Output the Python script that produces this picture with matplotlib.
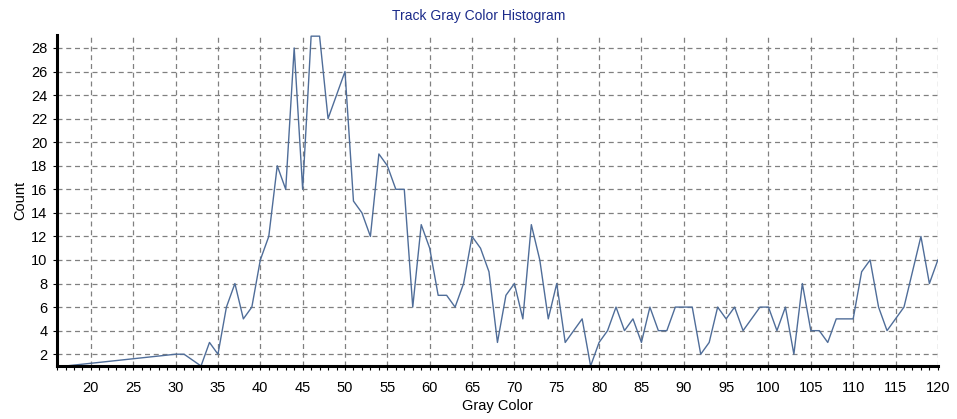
import numpy as np
import matplotlib
matplotlib.use('Agg')
import matplotlib.pyplot as plt
from matplotlib.ticker import MultipleLocator

# gray level -> pixel count (gaps where no bins were recorded)
gray = [17, 30, 31, 33, 34, 35, 36, 37, 38, 39, 40, 41, 42, 43, 44, 45, 46, 47, 48, 49,
        50, 51, 52, 53, 54, 55, 56, 57, 58, 59, 60, 61, 62, 63, 64, 65, 66, 67, 68, 69,
        70, 71, 72, 73, 74, 75, 76, 77, 78, 79, 80, 81, 82, 83, 84, 85, 86, 87, 88, 89,
        90, 91, 92, 93, 94, 95, 96, 97, 98, 99, 100, 101, 102, 103, 104, 105, 106, 107,
        108, 109, 110, 111, 112, 113, 114, 115, 116, 117, 118, 119, 120]
count = [1, 2, 2, 1, 3, 2, 6, 8, 5, 6, 10, 12, 18, 16, 28, 16, 29, 29, 22, 24,
         26, 15, 14, 12, 19, 18, 16, 16, 6, 13, 11, 7, 7, 6, 8, 12, 11, 9, 3, 7,
         8, 5, 13, 10, 5, 8, 3, 4, 5, 1, 3, 4, 6, 4, 5, 3, 6, 4, 4, 6,
         6, 6, 2, 3, 6, 5, 6, 4, 5, 6, 6, 4, 6, 2, 8, 4, 4, 3,
         5, 5, 5, 9, 10, 6, 4, 5, 6, 9, 12, 8, 10]

plt.rcParams['font.family'] = ['Liberation Sans', 'DejaVu Sans']

fig = plt.figure(figsize=(9.57, 4.19), dpi=100)
ax = fig.add_axes([0.0596, 0.1265, 0.9204, 0.79])

ax.plot(gray, count, color='#4f6d99', linewidth=1.0)

ax.set_xlim(16, 120)
ax.set_ylim(1, 29.1)
ax.xaxis.set_major_locator(MultipleLocator(5))
ax.xaxis.set_minor_locator(MultipleLocator(1))
ax.yaxis.set_major_locator(MultipleLocator(2))

ax.grid(True, which='major', color='#808080', linestyle=(0, (4, 3)), linewidth=0.9)

for s in ['top', 'right']:
    ax.spines[s].set_visible(False)
for s in ['left', 'bottom']:
    ax.spines[s].set_linewidth(2.2)
    ax.spines[s].set_color('black')

ax.tick_params(axis='both', which='major', labelsize=10.5, length=3, width=0.8)
ax.tick_params(axis='x', which='major', pad=8)
ax.tick_params(axis='y', which='major', pad=4)
ax.tick_params(axis='x', which='minor', length=3, width=0.8)

ax.set_xlabel('Gray Color', fontsize=10.5, labelpad=3)
ax.set_ylabel('Count', fontsize=10.5, labelpad=3)
fig.text(0.5, 0.962, 'Track Gray Color Histogram', ha='center', va='center',
         fontsize=10, color='#1a2a8a')

fig.savefig('out.png', dpi=100)
